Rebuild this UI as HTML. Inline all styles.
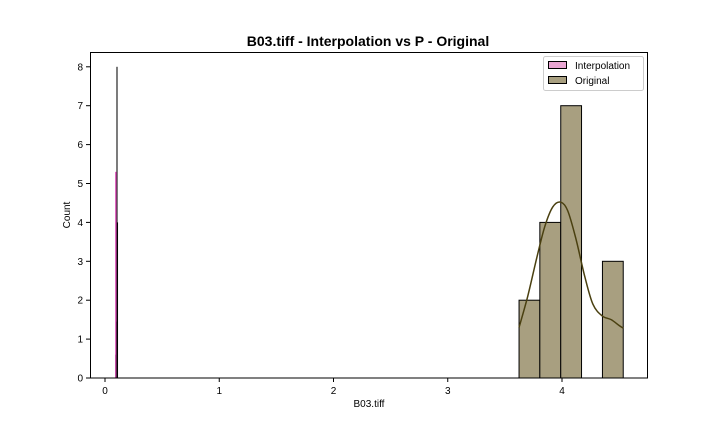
<!DOCTYPE html>
<html><head><meta charset="utf-8"><style>
body{margin:0;background:#fff;}
svg{display:block;font-family:"Liberation Sans","DejaVu Sans",sans-serif;}
</style></head><body>
<svg id="chart" width="720" height="432">
<rect width="720" height="432" fill="#fff"/>
<text x="368" y="46" text-anchor="middle" font-size="14" font-weight="bold">B03.tiff - Interpolation vs P - Original</text>
<g id="marks"></g>
<rect x="90.5" y="52.5" width="557" height="325.5" fill="none" stroke="#000" stroke-width="1"/>
<g id="axes" font-size="10"></g>
<text x="369" y="407" text-anchor="middle" font-size="10">B03.tiff</text>
<text transform="translate(70,215) rotate(-90)" text-anchor="middle" font-size="10">Count</text>
<g>
<rect x="543.5" y="56.5" width="100" height="34" fill="#fff" stroke="#ccc" rx="2"/>
<rect x="548.5" y="61.5" width="18" height="7" fill="#eaa6d3" stroke="#000"/>
<text x="575" y="69" font-size="10">Interpolation</text>
<rect x="548.5" y="76.5" width="18" height="7" fill="#a89f80" stroke="#000"/>
<text x="575" y="84" font-size="10">Original</text>
</g>
</svg>
<script>
const origBinEdges=[3.624,3.806,3.989,4.171,4.354,4.536];
const origCounts=[2,4,7,0,3];
const kdeX=[3.624,3.70,3.78,3.85,3.92,3.99,4.05,4.12,4.20,4.27,4.35,4.43,4.50,4.536];
const kdeY=[1.3,2.1,3.1,3.9,4.4,4.52,4.3,3.6,2.6,1.9,1.6,1.5,1.35,1.28];
const spikeX=[0.1005,0.0875,0.0885,0.1,0.104];
const spikeW=[0.009,0.02,0.013,0.012,0.01];
const spikeH=[8,0.6,5.3,1.45,4];
const spikeC=["#000","#000","#dd55bb","#000","#000"];
const xTicks=[0,1,2,3,4];
const yTicks=[0,1,2,3,4,5,6,7,8];
const sx=v=>105+v*114.25;
const sy=v=>378-v*38.9;
const NS="http://www.w3.org/2000/svg";
const marks=document.getElementById('marks'),axes=document.getElementById('axes');
function mk(p,t,a){const e=document.createElementNS(NS,t);for(const k in a)e.setAttribute(k,a[k]);p.appendChild(e);return e;}
for(let i=0;i<spikeX.length;i++){
 const r=mk(marks,'rect',{x:sx(spikeX[i]),y:sy(spikeH[i]),width:Math.max(1,spikeW[i]*114.25),height:spikeH[i]*38.9,fill:spikeC[i]});
 
 
}
for(let i=0;i<origCounts.length;i++){
 if(!origCounts[i])continue;
 const r=mk(marks,'rect',{x:sx(origBinEdges[i]),y:sy(origCounts[i]),width:sx(origBinEdges[i+1])-sx(origBinEdges[i]),height:origCounts[i]*38.9,fill:'#a89f80',stroke:'#000','stroke-width':1});
 
 
}
let pts=kdeX.map((x,i)=>[sx(x),sy(kdeY[i])]);
let d='M'+pts[0][0]+','+pts[0][1];
for(let i=0;i<pts.length-1;i++){
 const p0=pts[Math.max(0,i-1)],p1=pts[i],p2=pts[i+1],p3=pts[Math.min(pts.length-1,i+2)];
 d+=` C${p1[0]+(p2[0]-p0[0])/6},${p1[1]+(p2[1]-p0[1])/6} ${p2[0]-(p3[0]-p1[0])/6},${p2[1]-(p3[1]-p1[1])/6} ${p2[0]},${p2[1]}`;
}
const kl=mk(marks,'path',{d:d,fill:'none',stroke:'#4a4010','stroke-width':1.5});


xTicks.forEach(t=>{
 const l=mk(axes,'line',{x1:sx(t),x2:sx(t),y1:378,y2:382,stroke:'#000'});
 
 
 const tx=mk(axes,'text',{x:sx(t),y:394,'text-anchor':'middle'});tx.textContent=t;
 
 
});
yTicks.forEach(t=>{
 const l=mk(axes,'line',{x1:86,x2:90,y1:sy(t),y2:sy(t),stroke:'#000'});
 
 
 const tx=mk(axes,'text',{x:83,y:sy(t)+3.5,'text-anchor':'end'});tx.textContent=t;
 
 
});
</script>
</body></html>
